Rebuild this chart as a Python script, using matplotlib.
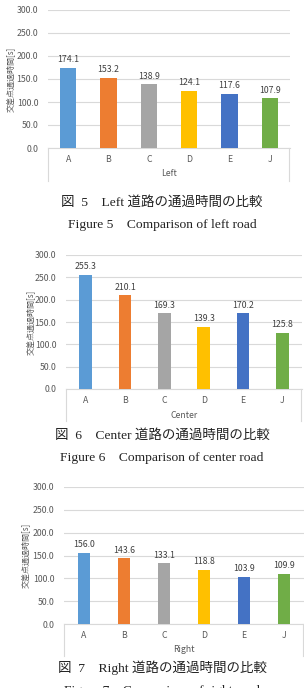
import matplotlib
matplotlib.use("Agg")
import matplotlib.pyplot as plt
from matplotlib.lines import Line2D

categories = ["A", "B", "C", "D", "E", "J"]
left_values = [174.1, 153.2, 138.9, 124.1, 117.6, 107.9]
center_values = [255.3, 210.1, 169.3, 139.3, 170.2, 125.8]
right_values = [156.0, 143.6, 133.1, 118.8, 103.9, 109.9]
y_ticks = [0, 50, 100, 150, 200, 250, 300]
colors = ["#5B9BD5", "#ED7D31", "#A5A5A5", "#FFC000", "#4472C4", "#70AD47"]
ylabel = "交差点通過時間[s]"

W, H = 304, 688
fig = plt.figure(figsize=(W / 100, H / 100), dpi=100)

SANS = ["Noto Sans CJK JP", "DejaVu Sans"]
SERIF = ["Liberation Serif", "Noto Sans CJK JP"]
FS = 6.3


def fx(x):
    return x / W


def fy(y):
    return 1 - y / H


panels = [
    (left_values, "Left", 48, 290, 10, 148, 181, 10, 0.4,
     "図  5    Left 道路の通過時間の比較", "Figure 5    Comparison of left road", 202, 225),
    (center_values, "Center", 66, 302, 255, 389, 421, 30, 0.32,
     "図  6    Center 道路の通過時間の比較", "Figure 6    Comparison of center road", 435, 458),
    (right_values, "Right", 64, 304, 487, 624, 656, 25, 0.31,
     "図  7    Right 道路の通過時間の比較", "Figure 7    Comparison of right road", 668, 691),
]

for (vals, xl, l, r, t, b, bb, ylx, bw, cap1, cap2, c1y, c2y) in panels:
    ax = fig.add_axes([fx(l), fy(b), fx(r - l), (b - t) / H])
    x = list(range(len(categories)))
    ax.bar(x, vals, width=bw, color=colors, zorder=3)
    ax.set_xlim(-0.5, len(categories) - 0.5)
    ax.set_ylim(0, 300)
    ax.set_yticks(y_ticks)
    ax.set_yticklabels([f"{v:.1f}" for v in y_ticks], family=SANS, fontsize=FS, color="#595959")
    ax.set_xticks(x)
    ax.set_xticklabels(categories, family=SANS, fontsize=FS, color="#595959")
    ax.tick_params(axis="y", length=0, pad=7)
    ax.tick_params(axis="x", length=0, pad=5)
    ax.grid(axis="y", color="#D9D9D9", linewidth=0.8, zorder=0)
    for s in ["top", "right", "left"]:
        ax.spines[s].set_visible(False)
    ax.spines["bottom"].set_color("#D9D9D9")
    ax.spines["bottom"].set_linewidth(0.8)
    for xi, v in zip(x, vals):
        ax.annotate(f"{v:.1f}", (xi, v), xytext=(0, 2.5), textcoords="offset points",
                    ha="center", va="bottom", family=SANS, fontsize=FS, color="#404040")
    for xx in (l, r - 1):
        fig.add_artist(Line2D([fx(xx), fx(xx)], [fy(b), fy(bb)], color="#D9D9D9", linewidth=0.8))
    fig.text(fx((l + r) / 2), fy(b + 26), xl, ha="center", va="center",
             family=SANS, fontsize=FS, color="#595959")
    fig.text(fx(ylx), fy((t + b) / 2), ylabel, rotation=90, ha="center", va="center",
             family=SANS, fontsize=5.8, color="#595959")
    fig.text(fx(162), fy(c1y), cap1, ha="center", va="center", family=SERIF, fontsize=9.7, color="#222222")
    fig.text(fx(162), fy(c2y), cap2, ha="center", va="center", family=SERIF, fontsize=9.7, color="#222222")

fig.savefig("out.png", dpi=100, facecolor="white")
